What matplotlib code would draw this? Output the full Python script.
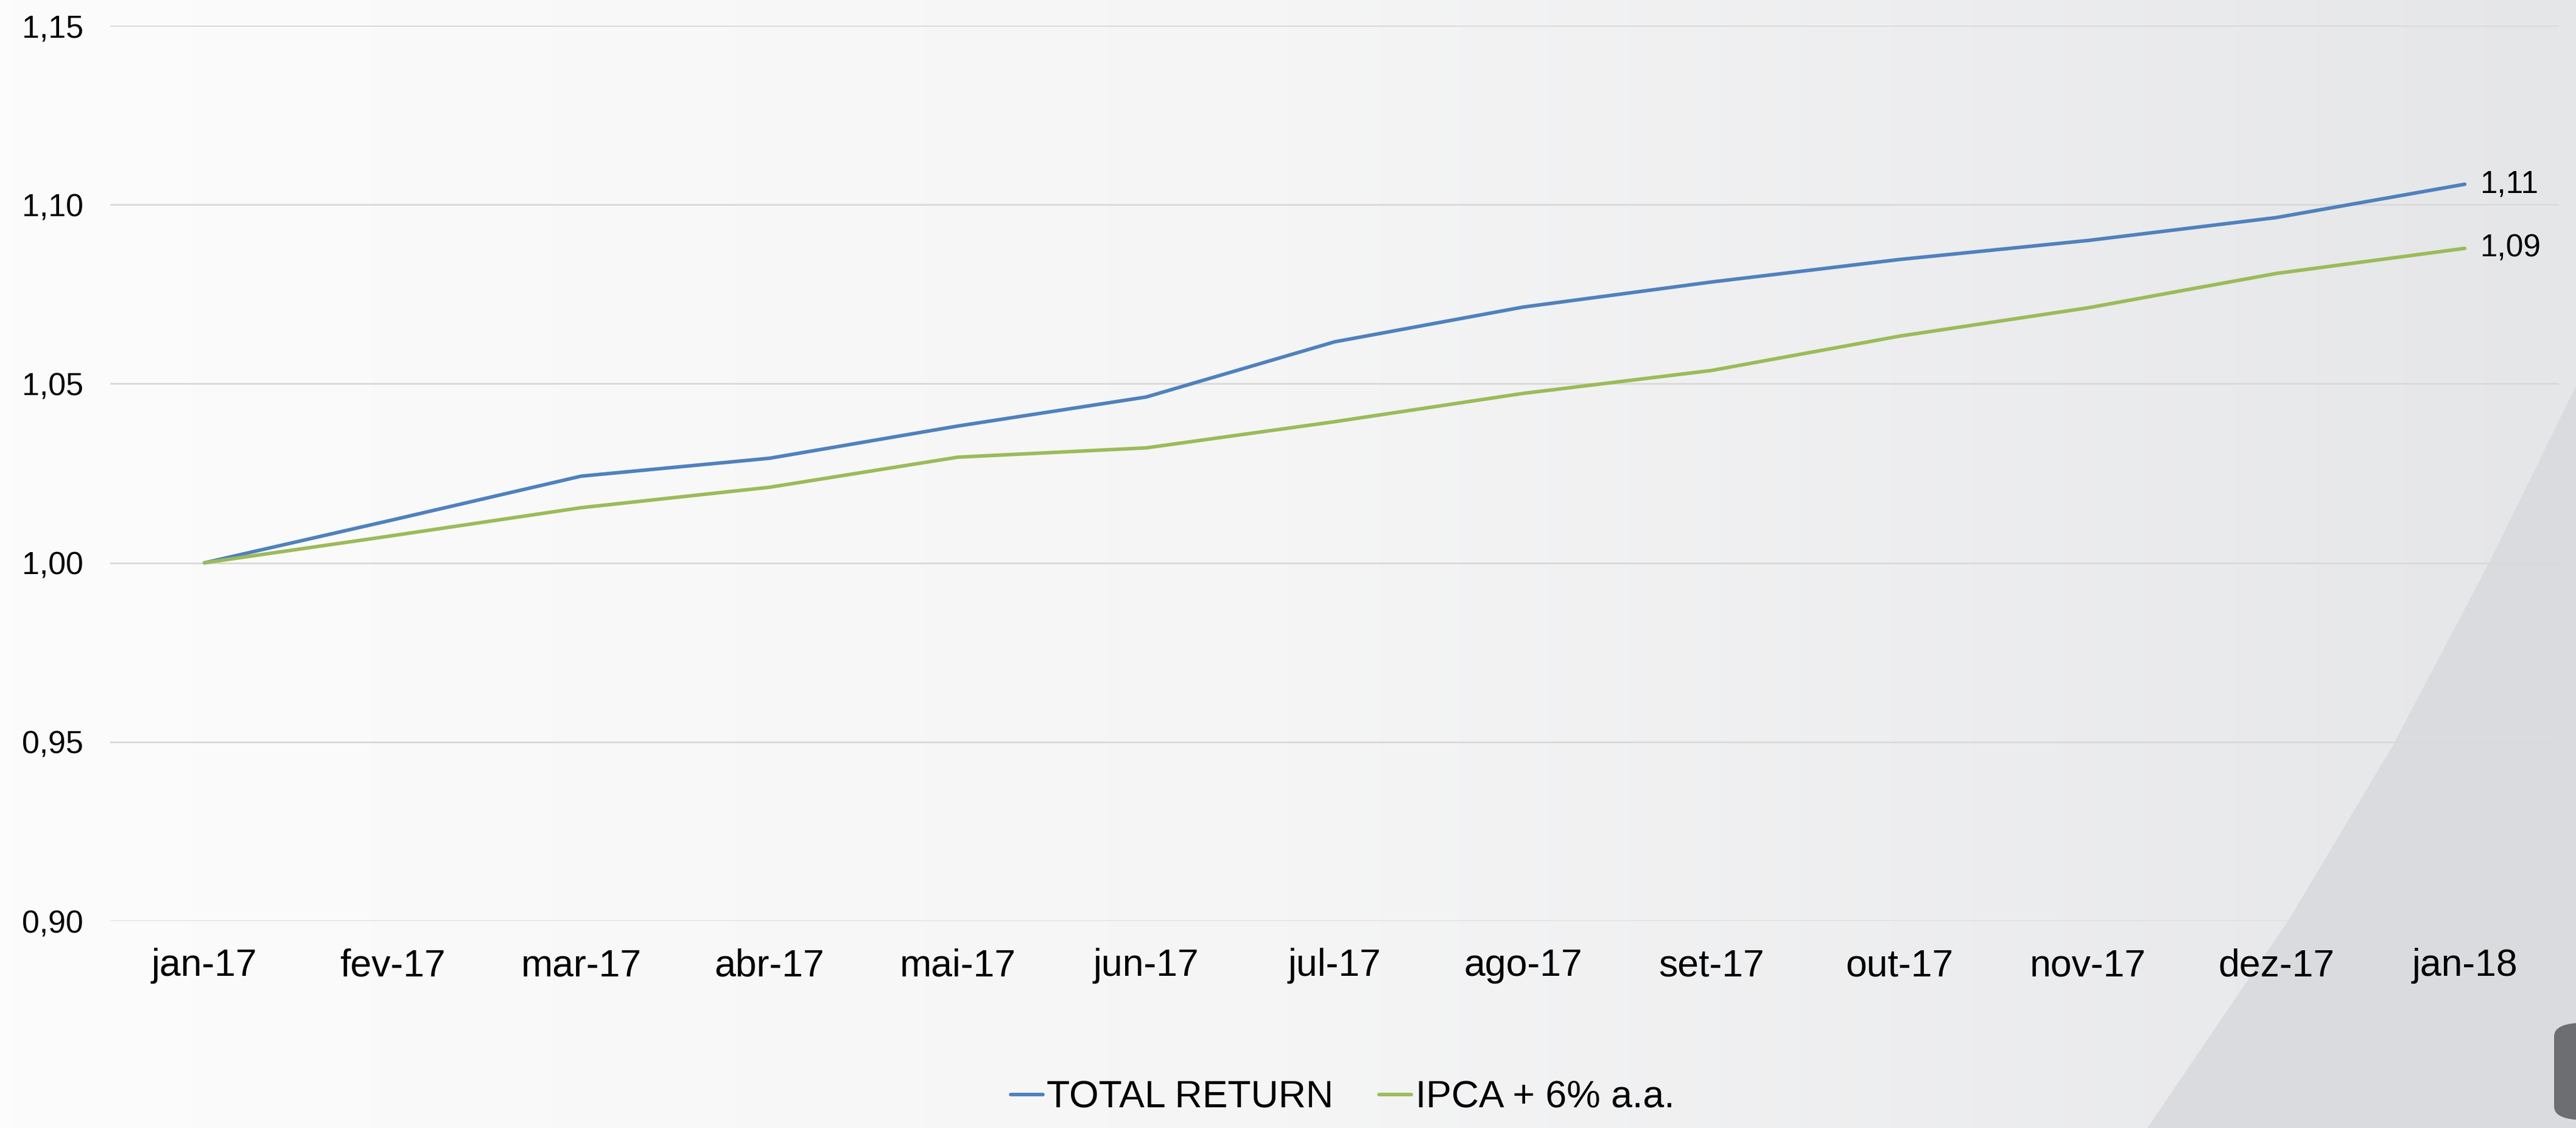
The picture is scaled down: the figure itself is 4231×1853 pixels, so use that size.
import numpy as np
import matplotlib
matplotlib.use("Agg")
from matplotlib import pyplot as plt
from matplotlib.colors import LinearSegmentedColormap
from matplotlib.patches import Polygon, FancyBboxPatch

plt.rcParams["font.family"] = ["Liberation Sans", "DejaVu Sans"]

months = ["jan-17", "fev-17", "mar-17", "abr-17", "mai-17", "jun-17", "jul-17",
          "ago-17", "set-17", "out-17", "nov-17", "dez-17", "jan-18"]
total_return = [1.000, 1.012, 1.0242, 1.0292, 1.0382, 1.0463, 1.0617,
                1.0714, 1.0784, 1.0847, 1.0900, 1.0964, 1.1057]
ipca_6 = [1.000, 1.0076, 1.0154, 1.0211, 1.0295, 1.0321, 1.0394,
          1.0473, 1.0537, 1.0633, 1.0712, 1.0808, 1.0878]
series_names = ["TOTAL RETURN", "IPCA + 6% a.a."]
series_colors = ["#4f81bd", "#9bbb59"]
y_ticks = [0.90, 0.95, 1.00, 1.05, 1.10, 1.15]

W, H = 4231, 1853
fig = plt.figure(figsize=(W / 200, H / 200), dpi=200)

# background: soft horizontal gradient plus the grey swoosh in the corner
bg = fig.add_axes([0, 0, 1, 1], zorder=-10)
bg.set_axis_off()
cmap = LinearSegmentedColormap.from_list("bg", ["#fcfcfc", "#f5f5f6", "#e5e6e8"])
bg.imshow(np.linspace(0, 1, 512).reshape(1, -1), cmap=cmap, aspect="auto",
          extent=[0, 1, 0, 1])
swoosh = [(3527, 1853), (3760, 1510), (3930, 1225), (4089, 923), (4231, 634), (4231, 1853)]
bg.add_patch(Polygon([(x / W, 1 - y / H) for x, y in swoosh], closed=True,
                     facecolor="#dadbde", edgecolor="none"))
bg.add_patch(FancyBboxPatch((4195 / W, 1 - 1840 / H), 0.03, 160 / H,
                            boxstyle="round,pad=0,rounding_size=0.012",
                            facecolor="#6d6e71", edgecolor="none"))
bg.set_xlim(0, 1)
bg.set_ylim(0, 1)

ax = fig.add_axes([181 / W, 1 - 1513 / H, (4203 - 181) / W, (1513 - 42) / H])
ax.set_facecolor("none")
x = np.arange(len(months))
for vals, name, col in zip([total_return, ipca_6], series_names, series_colors):
    ax.plot(x, vals, color=col, lw=2.1, label=name, solid_capstyle="round")
    ax.annotate(f"{vals[-1]:.2f}".replace(".", ","), (x[-1], vals[-1]),
                xytext=(9, 0), textcoords="offset points", va="center", ha="left",
                fontsize=18.5)

ax.set_xlim(-0.5, len(months) - 0.5)
ax.set_ylim(0.90, 1.15)
ax.set_xticks(x)
ax.set_xticklabels(months, fontsize=22.5)
ax.set_yticks(y_ticks)
ax.set_yticklabels([f"{v:.2f}".replace(".", ",") for v in y_ticks], fontsize=18.7)
ax.tick_params(axis="both", length=0)
ax.tick_params(axis="x", pad=16)
ax.tick_params(axis="y", pad=16)
ax.grid(axis="y", color="#d9d9d9", lw=1.0)
ax.set_axisbelow(True)
for s in ax.spines.values():
    s.set_visible(False)

fig.legend(loc="lower center", bbox_to_anchor=(2205 / W, -0.006), ncol=2,
           frameon=False, fontsize=22.5, handlelength=0.85, handletextpad=0.1,
           columnspacing=1.2, borderpad=0.0)

fig.savefig("out.png", dpi=200)
